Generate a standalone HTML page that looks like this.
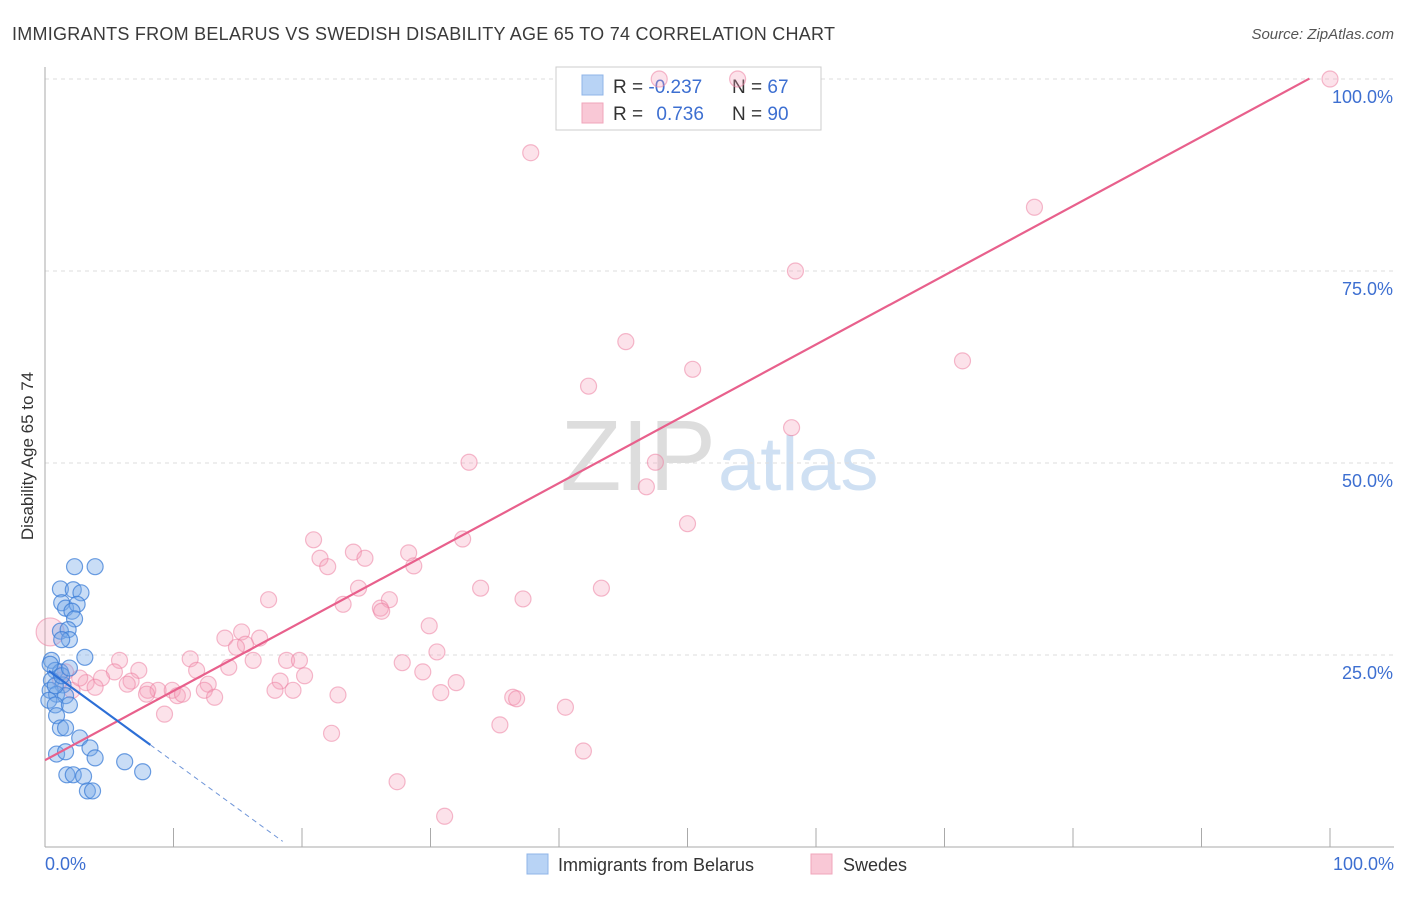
<!DOCTYPE html>
<html><head><meta charset="utf-8"><style>
body{margin:0;background:#fff;font-family:"Liberation Sans",sans-serif}
svg text{font-family:"Liberation Sans",sans-serif}
</style></head><body>
<svg width="1406" height="892" xmlns="http://www.w3.org/2000/svg">
<text x="12" y="40" font-size="18" fill="#3a3a3a" textLength="823">IMMIGRANTS FROM BELARUS VS SWEDISH DISABILITY AGE 65 TO 74 CORRELATION CHART</text>
<text x="1394" y="39" font-size="15" fill="#555" font-style="italic" text-anchor="end">Source: ZipAtlas.com</text>
<text x="716" y="490" font-size="100" fill="#ddd" text-anchor="end" font-family="Liberation Serif">ZIP</text>
<text x="718" y="490" font-size="76" fill="#cfe0f3">atlas</text>
<g id="grid"></g>
<g id="axes"></g>
<g>
<rect x="556" y="67" width="265" height="63" fill="#fff" stroke="#ccc"/>
<rect x="582" y="75" width="21" height="20" fill="#b8d3f5" stroke="#8fb4e8"/>
<rect x="582" y="103" width="21" height="20" fill="#f9c8d6" stroke="#f0a6bb"/>
<text x="613" y="93" font-size="19" fill="#333">R = <tspan fill="#3d6fd1">-0.237</tspan></text>
<text x="732" y="93" font-size="19" fill="#333">N = <tspan fill="#3d6fd1">67</tspan></text>
<text x="613" y="120" font-size="19" fill="#333">R = <tspan fill="#3d6fd1" dx="8">0.736</tspan></text>
<text x="732" y="120" font-size="19" fill="#333">N = <tspan fill="#3d6fd1">90</tspan></text>
</g>
<g id="marks"></g>
<text transform="translate(33,456) rotate(-90)" font-size="17" fill="#333" text-anchor="middle">Disability Age 65 to 74</text>
<text x="45" y="870" font-size="18" fill="#3d6fd1">0.0%</text>
<text x="1394" y="870" font-size="18" fill="#3d6fd1" text-anchor="end">100.0%</text>
<g>
<rect x="527" y="854" width="21" height="20" fill="#b8d3f5" stroke="#8fb4e8"/>
<text x="558" y="871" font-size="18" fill="#333">Immigrants from Belarus</text>
<rect x="811" y="854" width="21" height="20" fill="#f9c8d6" stroke="#f0a6bb"/>
<text x="843" y="871" font-size="18" fill="#333">Swedes</text>
</g>
</svg>
<script>
const yTicks=[25,50,75,100];
const yTickLabels=["25.0%","50.0%","75.0%","100.0%"];
const xTickVals=[0,10,20,30,40,50,60,70,80,90,100];
const blueX=[2.3,3.9,1.2,2.2,2.8,1.3,1.6,2.5,2.1,2.3,1.2,1.8,1.9,1.3,3.1,0.5,0.8,1.2,0.5,1.4,0.4,0.9,1.6,0.3,0.8,1.9,0.9,1.2,1.6,2.7,3.5,0.9,1.6,3.9,6.2,7.6,1.7,2.2,3.0,3.3,3.7,0.8,1.3,0.4,1.9];
const blueY=[36.5,36.5,33.6,33.5,33.1,31.8,31.1,31.6,30.7,29.7,28.1,28.3,27.0,27.0,24.7,24.3,23.0,22.8,21.7,21.1,20.4,19.9,19.7,19.1,18.5,18.5,17.1,15.5,15.5,14.2,12.9,12.1,12.4,11.6,11.1,9.8,9.4,9.4,9.2,7.3,7.3,21.0,22.3,23.8,23.3];
const pinkX=[100,47.8,53.9,37.8,77.0,58.4,45.2,71.4,42.3,50.4,58.1,33.0,47.5,46.8,50.0,32.5,20.9,24.0,28.3,24.9,21.4,22.0,28.7,24.4,33.9,43.3,17.4,26.8,37.2,23.2,26.1,26.2,29.9,15.3,14.0,16.7,15.6,14.9,0.4,30.5,5.8,11.3,16.2,18.8,19.8,27.8,7.3,11.8,14.3,5.4,29.4,20.2,4.4,6.7,6.4,18.3,3.2,3.9,12.7,32.0,8.0,8.8,9.9,7.9,12.4,10.3,10.7,13.2,17.9,19.3,22.8,30.8,36.4,36.7,9.3,40.5,35.4,22.3,41.9,27.4,31.1,1.2,1.6,2.1,2.7];
const pinkY=[100,100,100,90.4,83.3,75.0,65.8,63.3,60.0,62.2,54.6,50.1,50.1,46.9,42.1,40.1,40.0,38.4,38.3,37.6,37.6,36.5,36.6,33.7,33.7,33.7,32.2,32.2,32.3,31.6,31.1,30.7,28.8,28.0,27.2,27.2,26.4,26.0,28.0,25.4,24.3,24.5,24.3,24.3,24.3,24.0,23.0,23.0,23.4,22.8,22.8,22.3,22.0,21.6,21.2,21.6,21.4,20.8,21.2,21.4,20.4,20.4,20.4,19.9,20.4,19.7,19.9,19.5,20.4,20.4,19.8,20.1,19.5,19.3,17.3,18.2,15.9,14.8,12.5,8.5,4.0,21.7,22.8,20.4,22.0];
const blueFit=[23.3,-1.22];
const pinkFit=[11.3,0.902];
const NS="http://www.w3.org/2000/svg";
const sx=v=>45+v*12.85, sy=v=>847-v*7.68;
function mk(t,a,p){const e=document.createElementNS(NS,t);for(const k in a)e.setAttribute(k,a[k]);p.appendChild(e);return e;}
const grid=document.getElementById('grid'),axes=document.getElementById('axes'),marks=document.getElementById('marks');
yTicks.forEach((v,i)=>{
 const l=mk('line',{x1:45,x2:1394,y1:sy(v),y2:sy(v),stroke:'#ddd','stroke-dasharray':'4,4'},grid);
 
 
 const t=mk('text',{x:1393,y:sy(v)+24,'font-size':18,fill:'#3d6fd1','text-anchor':'end'},axes);
 t.textContent=yTickLabels[i];
 
 
});
const ya=mk('line',{x1:45,x2:45,y1:67,y2:847,stroke:'#aaa'},axes);


const xa=mk('line',{x1:45,x2:1394,y1:847,y2:847,stroke:'#aaa'},axes);


xTickVals.forEach(v=>{
 const t=mk('line',{x1:sx(v),x2:sx(v),y1:828,y2:847,stroke:'#aaa'},axes);
 
 
});
pinkX.forEach((x,i)=>{
 const c=mk('circle',{cx:sx(x),cy:sy(pinkY[i]),r:i==38?14:8,fill:'rgba(244,160,186,0.3)',stroke:'rgba(236,130,162,0.55)','stroke-width':1.2},marks);
 
 
});
blueX.forEach((x,i)=>{
 const c=mk('circle',{cx:sx(x),cy:sy(blueY[i]),r:8,fill:'rgba(120,170,232,0.4)',stroke:'rgba(60,125,215,0.75)','stroke-width':1.2},marks);
 
 
});
const pl=mk('line',{x1:sx(0),y1:sy(pinkFit[0]),x2:sx(98.4),y2:sy(pinkFit[0]+pinkFit[1]*98.4),stroke:'#e8608c','stroke-width':2.2},marks);


const bl=mk('line',{x1:sx(0.3),y1:sy(blueFit[0]+blueFit[1]*0.3),x2:sx(8.2),y2:sy(blueFit[0]+blueFit[1]*8.2),stroke:'#2d6fd6','stroke-width':2.2},marks);


const bd=mk('line',{x1:sx(8.2),y1:sy(blueFit[0]+blueFit[1]*8.2),x2:sx(18.5),y2:sy(blueFit[0]+blueFit[1]*18.5),stroke:'#6f95d8','stroke-width':1,'stroke-dasharray':'5,4'},marks);


</script>
</body></html>
